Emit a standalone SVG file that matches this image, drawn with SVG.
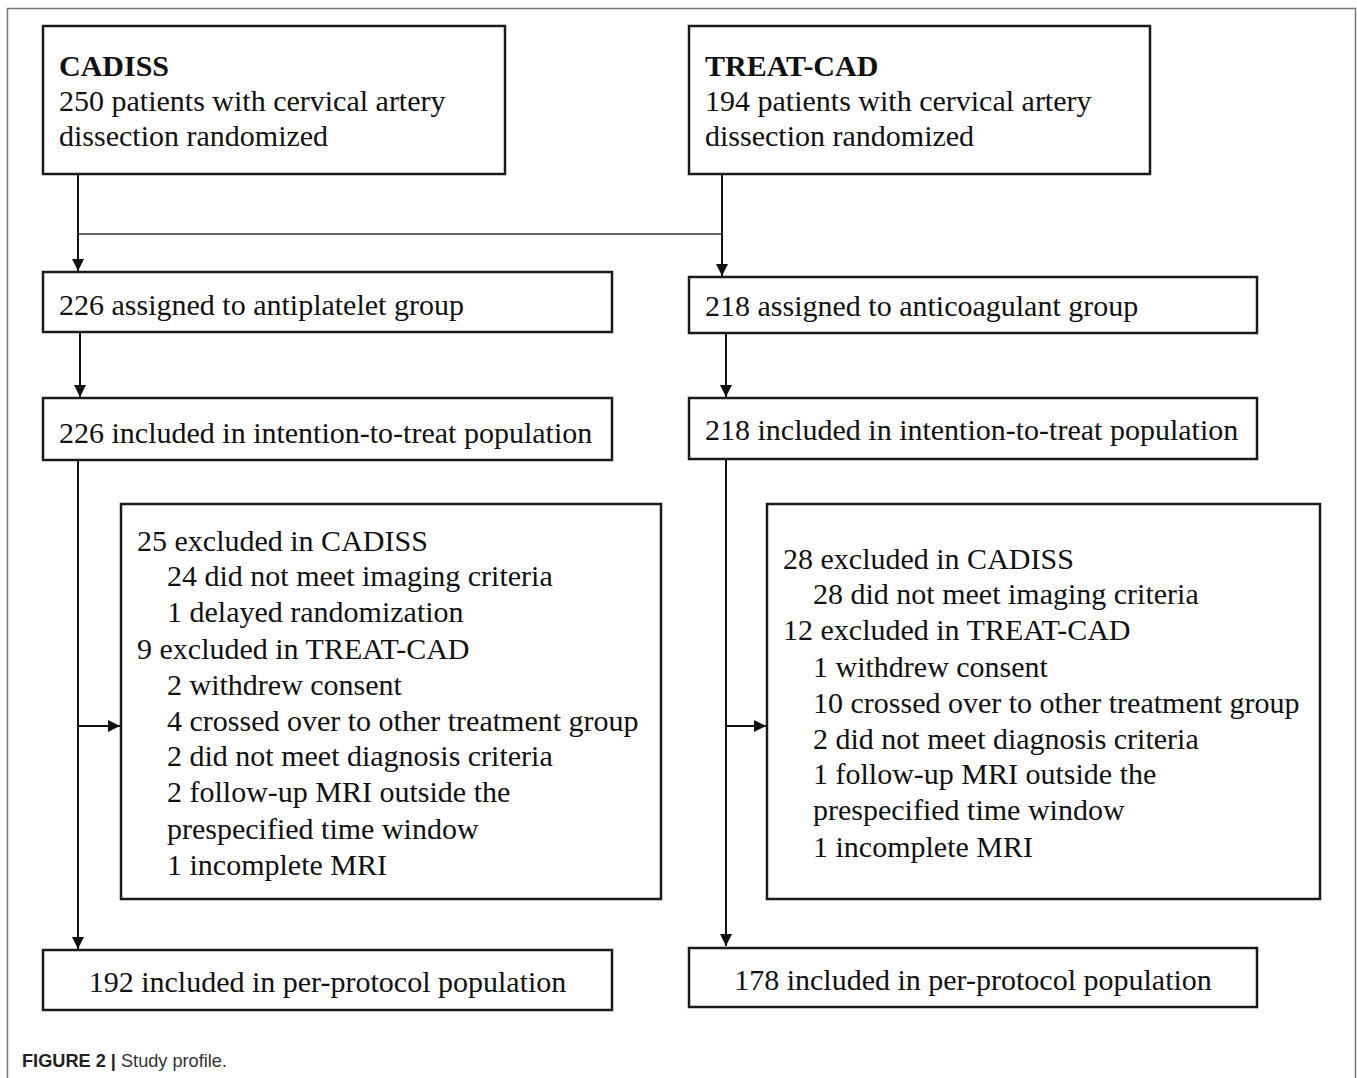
<svg xmlns="http://www.w3.org/2000/svg" width="1357" height="1078" viewBox="0 0 1357 1078">
<defs>
<style>
.box{fill:#fff;stroke:#1a1a1a;stroke-width:2.5}
.t{font-family:"Liberation Serif","Times New Roman",serif;font-size:30px;fill:#111}
.b{font-weight:bold}
.ln{fill:none;stroke:#111;stroke-width:2}
.thin{fill:none;stroke:#333;stroke-width:1.3}
.cap{font-family:"Liberation Sans",Arial,sans-serif;font-size:19px;fill:#333}
</style>
<marker id="ah" viewBox="0 0 10 10" refX="10" refY="5" markerWidth="13" markerHeight="12" markerUnits="userSpaceOnUse" orient="auto">
<path d="M0,0 L10,5 L0,10 Z" fill="#111"/>
</marker>
</defs>
<rect width="1357" height="1078" fill="#fff"/>
<path d="M7.5,1078 V8.5 H1355.5 V1078" fill="none" stroke="#777" stroke-width="1.5"/>

<g id="connectors">
<path class="ln" d="M78,174 V271" marker-end="url(#ah)"/>
<path class="ln" d="M722,174 V276" marker-end="url(#ah)"/>
<path class="thin" d="M78,234 H722"/>
<path class="ln" d="M80,333 V397" marker-end="url(#ah)"/>
<path class="ln" d="M726,334 V397" marker-end="url(#ah)"/>
<path class="ln" d="M78,461 V949" marker-end="url(#ah)"/>
<path class="ln" d="M78,726 H120" marker-end="url(#ah)"/>
<path class="ln" d="M726,460 V946" marker-end="url(#ah)"/>
<path class="ln" d="M726,726 H766" marker-end="url(#ah)"/>
</g>

<g id="cadiss">
<rect class="box" x="43" y="26" width="462" height="148"/>
<text class="t b" x="59" y="76">CADISS</text>
<text class="t" x="59" y="111">250 patients with cervical artery</text>
<text class="t" x="59" y="146">dissection randomized</text>
</g>

<g id="treatcad">
<rect class="box" x="689" y="26" width="461" height="148"/>
<text class="t b" x="705" y="76">TREAT-CAD</text>
<text class="t" x="705" y="111">194 patients with cervical artery</text>
<text class="t" x="705" y="146">dissection randomized</text>
</g>

<g id="antiplatelet">
<rect class="box" x="43" y="272" width="569" height="60"/>
<text class="t" x="59" y="315">226 assigned to antiplatelet group</text>
</g>

<g id="anticoagulant">
<rect class="box" x="689" y="277" width="568" height="56"/>
<text class="t" x="705" y="316">218 assigned to anticoagulant group</text>
</g>

<g id="itt-left">
<rect class="box" x="43" y="398" width="569" height="62"/>
<text class="t" x="59" y="443">226 included in intention-to-treat population</text>
</g>

<g id="itt-right">
<rect class="box" x="689" y="398" width="568" height="61"/>
<text class="t" x="705" y="440">218 included in intention-to-treat population</text>
</g>

<g id="excl-left">
<rect class="box" x="121" y="504" width="540" height="395"/>
<text class="t" x="137" y="551">25 excluded in CADISS</text>
<text class="t" x="167" y="586">24 did not meet imaging criteria</text>
<text class="t" x="167" y="622">1 delayed randomization</text>
<text class="t" x="137" y="659">9 excluded in TREAT-CAD</text>
<text class="t" x="167" y="695">2 withdrew consent</text>
<text class="t" x="167" y="731">4 crossed over to other treatment group</text>
<text class="t" x="167" y="766">2 did not meet diagnosis criteria</text>
<text class="t" x="167" y="802">2 follow-up MRI outside the</text>
<text class="t" x="167" y="839">prespecified time window</text>
<text class="t" x="167" y="875">1 incomplete MRI</text>
</g>

<g id="excl-right">
<rect class="box" x="767" y="504" width="553" height="395"/>
<text class="t" x="783" y="569">28 excluded in CADISS</text>
<text class="t" x="813" y="604">28 did not meet imaging criteria</text>
<text class="t" x="783" y="640">12 excluded in TREAT-CAD</text>
<text class="t" x="813" y="677">1 withdrew consent</text>
<text class="t" x="813" y="713">10 crossed over to other treatment group</text>
<text class="t" x="813" y="749">2 did not meet diagnosis criteria</text>
<text class="t" x="813" y="784">1 follow-up MRI outside the</text>
<text class="t" x="813" y="820">prespecified time window</text>
<text class="t" x="813" y="857">1 incomplete MRI</text>
</g>

<g id="pp-left">
<rect class="box" x="43" y="950" width="569" height="60"/>
<text class="t" x="327.5" y="992" text-anchor="middle">192 included in per-protocol population</text>
</g>

<g id="pp-right">
<rect class="box" x="689" y="948" width="568" height="59"/>
<text class="t" x="973" y="990" text-anchor="middle">178 included in per-protocol population</text>
</g>

<g id="caption">
<text class="cap" x="22" y="1067" textLength="205" lengthAdjust="spacingAndGlyphs"><tspan font-weight="bold" fill="#222">FIGURE 2 |</tspan> Study profile.</text>
</g>
</svg>
